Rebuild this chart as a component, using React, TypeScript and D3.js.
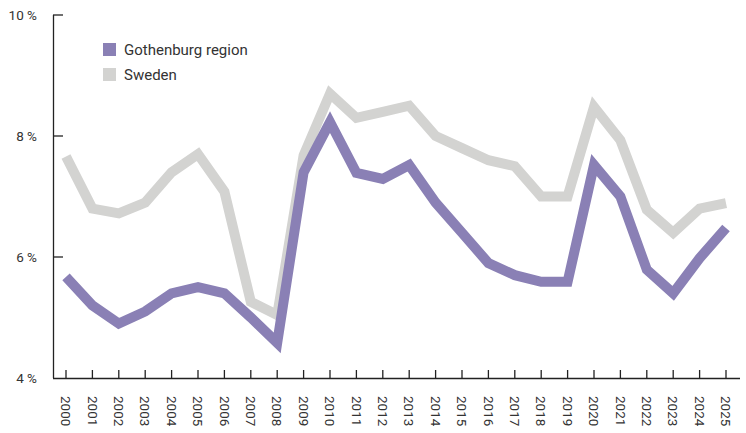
import * as d3 from 'd3';
import { useEffect, useRef } from 'react';

const years = d3.range(2000, 2026);
const gothenburg = [5.67, 5.2, 4.9, 5.1, 5.4, 5.5, 5.4, 5.0, 4.58, 7.4, 8.23, 7.39, 7.29, 7.52, 6.9, 6.4, 5.9, 5.7, 5.59, 5.59, 7.52, 7.0, 5.79, 5.4, 5.98, 6.48];
const sweden = [7.66, 6.8, 6.72, 6.9, 7.4, 7.7, 7.08, 5.26, 5.04, 7.68, 8.7, 8.3, 8.4, 8.5, 8.0, 7.8, 7.6, 7.5, 7.0, 7.0, 8.48, 7.93, 6.78, 6.4, 6.8, 6.89];
const yTicks = [4, 6, 8, 10];
const seriesNames = ['Gothenburg region', 'Sweden'];
const colors = ['#8a80b5', '#d3d3d1'];

const W = 746;
const H = 433;
const font = 'Roboto, "DejaVu Sans", sans-serif';

const App = () => {
  const ref = useRef<SVGSVGElement>(null);

  useEffect(() => {
    const svg = d3.select(ref.current);
    svg.selectAll('*').remove();

    const x = d3.scaleLinear().domain([2000, 2025]).range([66, 726]);
    const y = d3.scaleLinear().domain([4, 10]).range([378, 15]);
    const axisColor = '#222';

    // y axis
    svg.append('line')
      .attr('x1', 53.5).attr('x2', 53.5)
      .attr('y1', y(10)).attr('y2', y(4))
      .attr('stroke', axisColor).attr('stroke-width', 1.3);
    svg.selectAll('.ytick')
      .data(yTicks.filter((t) => t > 4))
      .enter()
      .append('line')
      .attr('x1', 53).attr('x2', 63)
      .attr('y1', (d) => y(d)).attr('y2', (d) => y(d))
      .attr('stroke', axisColor).attr('stroke-width', 1.3);
    svg.selectAll('.ylabel')
      .data(yTicks)
      .enter()
      .append('text')
      .attr('x', 37)
      .attr('y', (d) => y(d))
      .attr('dy', '0.35em')
      .attr('text-anchor', 'end')
      .style('font-family', font)
      .style('font-size', '13.5px')
      .style('fill', '#333')
      .text((d) => `${d} %`);

    // x axis
    svg.append('line')
      .attr('x1', 53).attr('x2', 740)
      .attr('y1', 378.5).attr('y2', 378.5)
      .attr('stroke', axisColor).attr('stroke-width', 1.3);
    svg.selectAll('.xtick')
      .data(years)
      .enter()
      .append('line')
      .attr('x1', (d) => x(d)).attr('x2', (d) => x(d))
      .attr('y1', 370).attr('y2', 378)
      .attr('stroke', axisColor).attr('stroke-width', 1.3);
    svg.selectAll('.xlabel')
      .data(years)
      .enter()
      .append('text')
      .attr('transform', (d) => `translate(${x(d)}, 396) rotate(90)`)
      .attr('dy', '0.35em')
      .attr('text-anchor', 'start')
      .style('font-family', font)
      .style('font-size', '13.5px')
      .style('fill', '#333')
      .text((d) => d);

    const line = d3.line<number>()
      .x((d, i) => x(years[i]))
      .y((d) => y(d));

    [sweden, gothenburg].forEach((s, i) => {
      svg.append('path')
        .datum(s)
        .attr('d', line)
        .attr('fill', 'none')
        .attr('stroke', colors[1 - i])
        .attr('stroke-width', 10)
        .attr('stroke-linejoin', 'miter');
    });

    // legend
    seriesNames.forEach((name, i) => {
      const g = svg.append('g').attr('transform', `translate(103, ${43 + i * 25})`);
      g.append('rect').attr('width', 13).attr('height', 13).attr('fill', colors[i]);
      g.append('text')
        .attr('x', 21).attr('y', 6.5).attr('dy', '0.35em')
        .style('font-family', font)
        .style('font-size', '15px')
        .style('fill', '#333')
        .text(name);
    });
  }, []);

  return (
    <svg
      ref={ref}
      width={W}
      height={H}
      style={{ position: 'absolute', left: 0, top: 0, background: '#fff' }}
    />
  );
};

export default App;
